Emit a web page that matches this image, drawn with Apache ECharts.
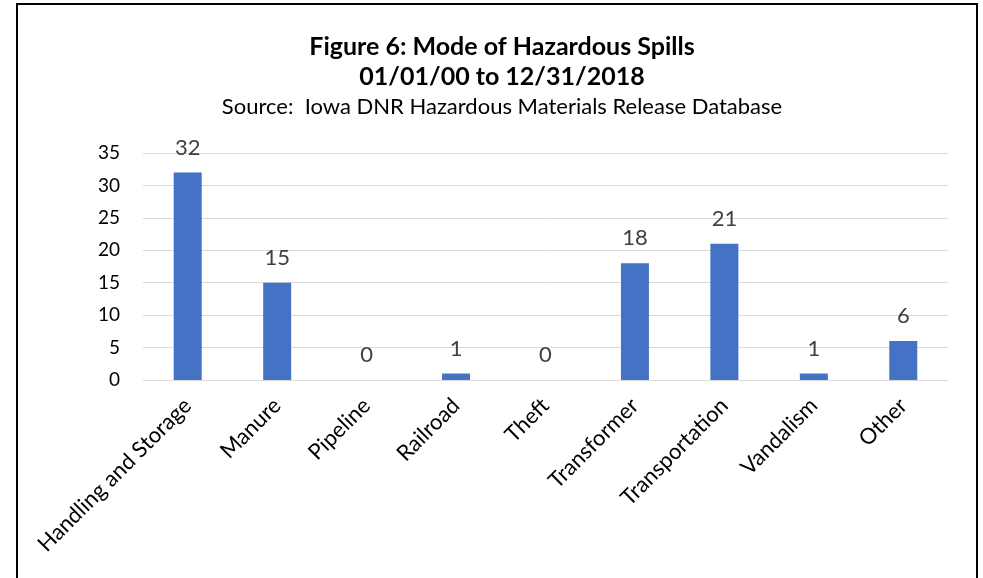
<!DOCTYPE html>
<html>
<head>
<meta charset="utf-8">
<script src="https://cdn.jsdelivr.net/npm/echarts@6/dist/echarts.min.js"></script>
<style>
  html, body { margin: 0; padding: 0; background: #fff; }
  #chart { width: 983px; height: 578px; }
</style>
</head>
<body>
<div id="chart"></div>
<script>
// Spill counts by mode, 2000 through 2018
const categories = ['Handling and Storage', 'Manure', 'Pipeline', 'Railroad', 'Theft',
  'Transformer', 'Transportation', 'Vandalism', 'Other'];
const spillCounts = [32, 15, 0, 1, 0, 18, 21, 1, 6];
const yTicks = [0, 5, 10, 15, 20, 25, 30, 35];

const titleLines = ['Figure 6: Mode of Hazardous Spills', '01/01/00 to 12/31/2018'];
const sourceLine = 'Source:  Iowa DNR Hazardous Materials Release Database';

const FONT = 'Lato, "Open Sans", sans-serif';

const chart = echarts.init(document.getElementById('chart'));
chart.setOption({
  backgroundColor: '#ffffff',
  animation: false,
  graphic: [{
    type: 'rect',
    shape: { x: 17, y: 4, width: 960, height: 620 },
    style: { fill: 'none', stroke: '#000000', lineWidth: 2 },
    silent: true
  }],
  title: [{
    text: titleLines.join('\n'),
    left: 497, top: 27, textAlign: 'center',
    textStyle: { fontFamily: FONT, fontSize: 25, fontWeight: 'bold', color: '#000', lineHeight: 30 }
  }, {
    text: sourceLine,
    left: 497, top: 91, textAlign: 'center',
    textStyle: { fontFamily: FONT, fontSize: 22, fontWeight: 'normal', color: '#000' }
  }],
  grid: { left: 143, right: 35, top: 153, bottom: 198, containLabel: false },
  xAxis: {
    type: 'category',
    data: categories,
    axisLine: { show: false },
    axisTick: { show: false },
    axisLabel: {
      rotate: 45, interval: 0, margin: 22,
      fontFamily: FONT, fontSize: 22, color: '#000'
    }
  },
  yAxis: {
    type: 'value',
    min: yTicks[0], max: yTicks[yTicks.length - 1], interval: 5,
    axisLine: { show: false },
    axisTick: { show: false },
    splitLine: { lineStyle: { color: '#d9d9d9', width: 1 } },
    axisLabel: { margin: 23, fontFamily: FONT, fontSize: 19, color: '#000' }
  },
  series: [{
    type: 'bar',
    data: spillCounts,
    barWidth: 28,
    itemStyle: { color: '#4472C4' },
    label: {
      show: true, position: 'top', distance: 14,
      fontFamily: FONT, fontSize: 22, color: '#404040'
    }
  }]
});
</script>
</body>
</html>
